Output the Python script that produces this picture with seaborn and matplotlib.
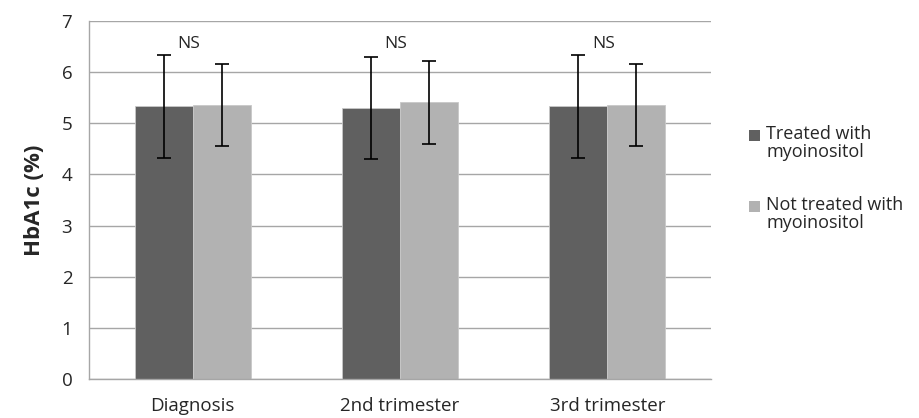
import matplotlib
matplotlib.use("Agg")
import matplotlib.pyplot as plt
from matplotlib.patches import Patch, Rectangle
from matplotlib.legend_handler import HandlerPatch
import pandas as pd
import seaborn as sns

# values
stages = ["Diagnosis", "2nd trimester", "3rd trimester"]
groups = ["Treated with\nmyoinositol", "Not treated with\nmyoinositol"]
treated_mean = [5.33, 5.30, 5.33]
treated_sd = [1.00, 1.00, 1.01]
untreated_mean = [5.35, 5.41, 5.36]
untreated_sd = [0.80, 0.81, 0.80]
sig_labels = ["NS", "NS", "NS"]

colors = ["#606060", "#b2b2b2"]

df = pd.DataFrame({
    "Stage": stages * 2,
    "Group": [groups[0]] * 3 + [groups[1]] * 3,
    "HbA1c": treated_mean + untreated_mean,
})

sns.set_style("white")
plt.rcParams['font.family'] = ['Open Sans', 'DejaVu Sans']

fig = plt.figure(figsize=(9.19, 4.18), dpi=100)
ax = fig.add_axes([0.0968, 0.0933, 0.677, 0.8565])

sns.barplot(data=df, x="Stage", y="HbA1c", hue="Group", order=stages,
            hue_order=groups, palette=colors, width=0.56, gap=0,
            errorbar=None, edgecolor="#c8c8c8", linewidth=0.6,
            saturation=1, legend=False, ax=ax, zorder=2)

# error bars at the centres of the drawn bars
for cont, sds in zip(ax.containers, [treated_sd, untreated_sd]):
    xs = [p.get_x() + p.get_width() / 2 for p in cont.patches]
    hs = [p.get_height() for p in cont.patches]
    ax.errorbar(xs, hs, yerr=sds, fmt="none", ecolor="black",
                elinewidth=1.2, capsize=5, capthick=1.2, zorder=3)

for i, lab in enumerate(sig_labels):
    ax.text(i - 0.02, 6.55, lab, ha="center", va="center", fontsize=12.5)

ax.set_ylim(0, 7)
ax.set_xlim(-0.5, 2.5)
ax.set_yticks(range(0, 8))
ax.yaxis.grid(True, color="#a6a6a6", linewidth=1.0, zorder=0)
ax.set_axisbelow(True)

for s in ["top", "right"]:
    ax.spines[s].set_visible(False)
for s in ["left", "bottom"]:
    ax.spines[s].set_color("#a6a6a6")
    ax.spines[s].set_linewidth(1.0)

ax.tick_params(axis="x", which="major", length=0, labelsize=13.5, pad=13)
ax.set_xticks([-0.5, 0.5, 1.5, 2.5], minor=True)
ax.tick_params(axis="x", which="minor", length=7, color="#a6a6a6", width=1.0)
ax.tick_params(axis="y", length=7, color="#a6a6a6", width=1.0, labelsize=13.5, pad=5)

ax.set_xlabel("")
ax.set_ylabel("HbA1c (%)", fontsize=16, fontweight="bold", labelpad=12)


# square sits next to the first line of the two-line label, like Excel does
def top_square(legend, orig_handle, xdescent, ydescent, width, height, fontsize):
    return Rectangle((-xdescent, -ydescent + 0.45 * fontsize), width, height)


handles = [Patch(facecolor=c, edgecolor="none") for c in colors]
leg = ax.legend(handles, groups, loc="center left", bbox_to_anchor=(1.035, 0.56),
                frameon=False, fontsize=13, handlelength=0.6, handleheight=0.6,
                handletextpad=0.35, labelspacing=1.9,
                handler_map={Patch: HandlerPatch(patch_func=top_square)})
for t in leg.get_texts():
    t.set_linespacing(1.05)

fig.savefig("out.png", dpi=100)
